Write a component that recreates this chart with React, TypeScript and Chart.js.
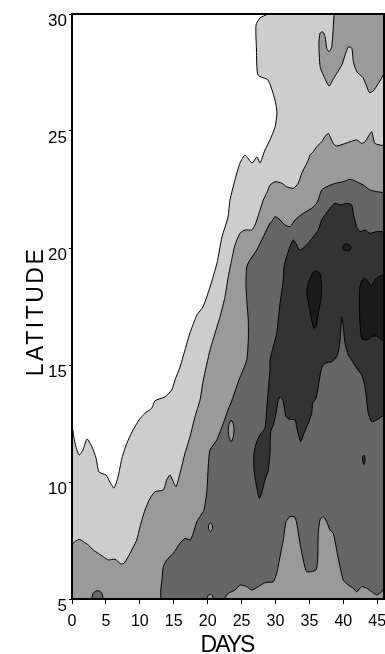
import React, { useEffect, useRef } from 'react';
import { Chart, registerables } from 'chart.js';

Chart.register(...registerables);

type Pt = [number, number]; // [day, latitude]

const dayTicks = [0, 5, 10, 15, 20, 25, 30, 35, 40, 45];
const latitudeTicks = [5, 10, 15, 20, 25, 30];
const dayMin = 0;
const dayMax = 46;
const latMin = 5;
const latMax = 30;

const levelColors = ['#cdcdcd', '#9a9a9a', '#666666', '#333333', '#1b1b1b'];

// Contour level 1 (outer band) – everything right of the white area
const level1: Pt[] = [
  [28.9, 30], [27.72, 29.83], [27.13, 29.53], [27.2, 28.46], [27.42, 27.39], [28.9, 27.18],
  [29.93, 26.32], [30.22, 25.77], [29.93, 25.17], [29.19, 24.62], [28.45, 24.19], [27.72, 23.63],
  [27.27, 23.89], [26.54, 23.63], [25.51, 23.97], [24.77, 23.63], [24.03, 22.91], [23.29, 22.05],
  [23.0, 21.32], [22.11, 20.47], [21.38, 19.36], [20.35, 18.33], [19.31, 17.48], [18.43, 17.14],
  [17.4, 16.37], [16.36, 15.34], [15.92, 14.91], [15.19, 14.36], [14.7, 13.93], [13.71, 13.64],
  [12.24, 13.47], [11.75, 13.15], [10.76, 12.94], [9.88, 12.65], [8.85, 12.14], [8.11, 11.67],
  [7.37, 11.03], [6.78, 10.21], [6.19, 9.74], [5.6, 10.0], [5.01, 10.3], [3.98, 10.43],
  [3.54, 11.03], [2.95, 11.5], [2.21, 11.84], [1.62, 11.37], [1.03, 11.15], [0.44, 11.67],
  [0, 12.35], [0, 5], [46, 5], [46, 30],
];

// Level 2 patch in the upper right corner
const level2Cap: Pt[] = [
  [38.64, 30], [38.3, 28.6], [37.9, 28.39], [37.57, 28.53], [37.3, 29.03], [36.98, 29.24],
  [36.58, 29.18], [36.4, 28.75], [36.58, 27.75], [37.06, 27.39], [37.9, 26.92], [38.45, 27.18],
  [39.04, 27.47], [39.78, 27.82], [40.27, 28.25], [40.75, 28.6], [41.25, 28.53], [41.49, 27.96],
  [41.99, 27.53], [42.88, 27.29], [43.36, 26.97], [43.85, 26.64], [44.44, 26.72], [45.18, 27.04],
  [46, 27.49], [46, 30],
];

// Level 2 main band
const level2: Pt[] = [
  [46, 24.37], [44.67, 24.47], [44.19, 24.97], [43.68, 24.76], [43.2, 24.54], [42.71, 24.47],
  [41.97, 24.62], [40.99, 24.54], [40.0, 24.44], [39.02, 24.36], [38.52, 24.47], [38.04, 24.76],
  [37.79, 24.9], [37.3, 24.76], [36.81, 24.54], [36.08, 24.33], [35.58, 24.12], [35.09, 23.97],
  [34.84, 23.76], [34.35, 23.47], [33.86, 23.19], [33.36, 22.77], [32.63, 22.55], [31.65, 22.62],
  [30.92, 22.77], [29.93, 22.83], [29.19, 22.69], [28.79, 22.4], [28.2, 22.05], [27.72, 21.62],
  [26.98, 20.98], [26.49, 20.77], [25.51, 20.77], [24.77, 20.63], [24.03, 20.13], [23.54, 19.49],
  [23.04, 18.77], [22.56, 17.92], [21.82, 17.06], [21.08, 16.35], [20.35, 15.64], [19.36, 14.36],
  [18.87, 13.5], [18.13, 12.79], [17.4, 11.94], [16.66, 11.23], [16.17, 10.65], [15.67, 10.09],
  [15.33, 9.8], [14.93, 10.01], [14.45, 10.3], [13.96, 10.09], [13.46, 9.66], [12.24, 9.59],
  [11.5, 9.3], [10.76, 8.8], [10.03, 8.09], [9.54, 7.52], [9.04, 7.23], [8.3, 6.81],
  [7.67, 6.53], [7.18, 6.5], [6.34, 6.7], [5.35, 6.67], [4.61, 6.81], [3.88, 6.95],
  [3.14, 7.09], [2.4, 7.31], [1.67, 7.45], [1.08, 7.55], [0.44, 7.45], [0, 7.31],
  [0, 5], [46, 5],
];

// Small level 3 bump on the lower edge
const level3Bump: Pt[] = [
  [2.9, 5], [3.1, 5.24], [3.54, 5.34], [4.05, 5.34], [4.42, 5.24], [4.61, 5],
];

// Level 3 main band
const level3: Pt[] = [
  [46, 22.36], [44.92, 22.41], [43.93, 22.48], [42.95, 22.69], [41.97, 22.83], [40.99, 22.94],
  [40.0, 22.83], [38.77, 22.76], [37.55, 22.62], [36.81, 22.48], [36.46, 22.19], [36.08, 21.91],
  [35.34, 21.7], [34.1, 21.48], [32.88, 21.2], [32.14, 20.91], [31.4, 20.98], [30.67, 21.2],
  [29.93, 21.34], [29.44, 21.12], [29.19, 21.06], [28.2, 20.48], [27.23, 19.91], [26.24, 19.49],
  [25.76, 19.2], [25.65, 18.5], [25.76, 17.78], [25.99, 16.92], [25.99, 16.07], [25.76, 15.21],
  [24.62, 14.36], [23.59, 13.5], [23.0, 13.08], [22.31, 12.51], [21.33, 11.79], [20.35, 11.37],
  [20.1, 10.73], [19.9, 9.66], [19.46, 8.8], [18.87, 8.52], [18.38, 8.29], [17.88, 7.81],
  [17.4, 7.52], [16.66, 7.59], [15.92, 7.38], [14.93, 6.95], [13.96, 6.67], [13.46, 6.38],
  [13.31, 5.95], [13.27, 5], [22.31, 5], [23.04, 5.24], [24.03, 5.38], [24.77, 5.6],
  [25.76, 5.53], [26.49, 5.38], [27.47, 5.53], [28.45, 5.7], [29.68, 5.74], [30.18, 6.1],
  [30.67, 6.81], [31.15, 7.52], [31.55, 8.3], [32.14, 8.52], [32.88, 8.49], [33.22, 8.09],
  [33.61, 7.38], [34.2, 6.53], [34.6, 6.17], [35.34, 6.17], [35.97, 6.24], [36.22, 6.67],
  [36.31, 7.81], [36.56, 8.38], [37.05, 8.52], [37.55, 8.3], [38.04, 7.95], [38.52, 7.81],
  [39.02, 7.09], [39.51, 6.38], [40.0, 5.81], [40.73, 5.6], [41.47, 5.46], [41.97, 5.31],
  [42.71, 5.53], [43.45, 5.46], [44.19, 5.31], [44.92, 5.17], [45.66, 5.31], [46, 5.46],
];

// Level 2 holes inside level 3
const level2HoleA: Pt[] = [
  [23.47, 12.65], [23.81, 12.48], [23.88, 12.18], [23.74, 11.88], [23.47, 11.72],
  [23.15, 11.92], [23.04, 12.22], [23.15, 12.48], [23.47, 12.65],
];
const level2HoleB: Pt[] = [
  [20.42, 8.26], [20.68, 8.16], [20.71, 7.99], [20.42, 7.88], [20.15, 7.99], [20.13, 8.16], [20.42, 8.26],
];
const level2HoleC: Pt[] = [
  [19.9, 5], [20.05, 5.15], [20.39, 5.21], [20.71, 5.15], [20.83, 5],
];

// Level 4 core
const level4: Pt[] = [
  [46, 20.7], [44.92, 20.7], [43.93, 20.63], [43.2, 20.77], [42.46, 20.7], [41.97, 20.91],
  [41.47, 21.48], [41.24, 21.84], [40.5, 21.91], [39.51, 21.84], [38.77, 21.91], [38.04, 21.7],
  [37.3, 21.41], [36.81, 21.2], [36.31, 20.77], [35.58, 20.48], [34.6, 20.13], [33.61, 19.91],
  [33.13, 20.13], [32.63, 20.34], [32.14, 20.06], [31.65, 19.63], [31.26, 19.2], [31.15, 18.63],
  [30.67, 17.64], [30.18, 16.35], [29.68, 15.78], [29.19, 15.21], [29.19, 14.79], [28.94, 13.93],
  [28.7, 13.08], [28.45, 12.3], [27.72, 12.01], [27.23, 11.72], [26.83, 11.23], [26.83, 10.51],
  [27.13, 9.94], [27.61, 9.3], [27.97, 9.52], [28.45, 10.09], [28.94, 10.51], [29.19, 11.23],
  [29.29, 12.15], [29.68, 12.44], [30.08, 12.94], [30.42, 13.5], [30.77, 13.65], [31.15, 13.43],
  [31.55, 12.79], [32.14, 12.68], [32.88, 12.65], [33.22, 12.22], [33.72, 11.72], [34.2, 12.08],
  [34.84, 12.51], [35.34, 12.94], [35.49, 13.36], [35.97, 13.58], [36.31, 14.07], [36.46, 14.36],
  [36.81, 14.86], [37.3, 15.07], [38.29, 15.14], [39.02, 15.35], [39.41, 15.78], [39.66, 16.64],
  [39.76, 17.06], [40.0, 16.64], [40.25, 15.93], [40.73, 15.43], [41.24, 15.21], [41.97, 14.86],
  [42.71, 14.57], [42.95, 14.36], [43.2, 14.07], [43.45, 13.5], [43.68, 12.94], [44.19, 12.58],
  [44.92, 12.65], [46, 12.86],
];

// Isolated level 4 spot
const level4Spot: Pt[] = [
  [43.02, 11.15], [43.2, 11.03], [43.17, 10.85], [43.02, 10.75], [42.86, 10.9], [42.87, 11.09], [43.02, 11.15],
];

// Level 5 maxima
const level5West: Pt[] = [
  [36.08, 19.03], [36.56, 18.92], [36.81, 18.35], [36.67, 17.78], [36.31, 17.21], [35.97, 16.64],
  [35.68, 16.57], [35.34, 16.92], [34.99, 17.49], [34.6, 18.06], [34.84, 18.49], [35.34, 18.85],
  [35.68, 18.99], [36.08, 19.03],
];
const level5East: Pt[] = [
  [46, 18.85], [45.41, 18.8], [44.67, 18.63], [44.04, 18.35], [43.54, 18.63], [42.95, 18.7],
  [42.46, 18.35], [42.36, 17.64], [42.46, 16.78], [42.71, 16.14], [43.45, 16.07], [44.19, 16.21],
  [44.92, 16.24], [45.66, 16.07], [46, 16.03],
];
const level5Spot: Pt[] = [
  [39.89, 20.03], [40.1, 20.15], [40.69, 20.17], [41.13, 20.06], [40.99, 19.91], [40.4, 19.88],
  [39.95, 19.94], [39.89, 20.03],
];

// Painted in this order: later shapes sit on top
const shapes: { edge: Pt[]; level: number }[] = [
  { edge: level1, level: 0 },
  { edge: level2Cap, level: 1 },
  { edge: level2, level: 1 },
  { edge: level3Bump, level: 2 },
  { edge: level3, level: 2 },
  { edge: level2HoleA, level: 1 },
  { edge: level2HoleB, level: 1 },
  { edge: level2HoleC, level: 1 },
  { edge: level4, level: 3 },
  { edge: level4Spot, level: 3 },
  { edge: level5West, level: 4 },
  { edge: level5East, level: 4 },
  { edge: level5Spot, level: 4 },
];

const FONT = '"Liberation Sans", Arial, Helvetica, sans-serif';
const WIDTH = 385;
const HEIGHT = 654;

const framePlugin = {
  id: 'plotFrame',
  afterDatasetsDraw(chart: any) {
    const { ctx, chartArea: a } = chart;
    ctx.save();
    ctx.strokeStyle = '#000';
    ctx.lineWidth = 2;
    ctx.strokeRect(a.left, a.top, a.right - a.left, a.bottom - a.top);
    ctx.restore();
  },
};

const axisTitlePlugin = {
  id: 'axisTitles',
  afterDraw(chart: any) {
    const { ctx, chartArea: a, height } = chart;
    ctx.save();
    ctx.fillStyle = '#000';
    ctx.font = `23px ${FONT}`;
    ctx.textAlign = 'center';
    ctx.textBaseline = 'alphabetic';
    (ctx as any).letterSpacing = '-2px';
    ctx.fillText('DAYS', (a.left + a.right) / 2 - 1, height - 2);
    (ctx as any).letterSpacing = '2.5px';
    ctx.translate(a.left - 29, (a.top + a.bottom) / 2 + 5);
    ctx.rotate(-Math.PI / 2);
    ctx.fillText('LATITUDE', 0, 0);
    ctx.restore();
  },
};

// keep the plot box fixed: no extra room reserved for overhanging tick labels
const noScalePadding = (s: any) => {
  s.paddingLeft = 0;
  s.paddingRight = 0;
  s.paddingTop = 0;
  s.paddingBottom = 0;
};

export default function App() {
  const canvasRef = useRef<HTMLCanvasElement | null>(null);

  useEffect(() => {
    const canvas = canvasRef.current;
    if (!canvas) return;
    const datasets = shapes.map((s, i) => ({
      label: `level ${s.level + 1}`,
      data: s.edge.map(([x, y]) => ({ x, y })),
      backgroundColor: levelColors[s.level],
      borderColor: '#000',
      borderWidth: 1,
      fill: 'shape' as const,
      pointRadius: 0,
      pointHoverRadius: 0,
      tension: 0.2,
      order: shapes.length - i,
    }));

    const chart = new Chart(canvas, {
      type: 'line',
      data: { datasets },
      options: {
        animation: false,
        responsive: false,
        devicePixelRatio: 1,
        events: [],
        layout: { autoPadding: false, padding: { top: 14, right: 1, left: 0, bottom: 0 } },
        plugins: {
          legend: { display: false },
          tooltip: { enabled: false },
          title: { display: false },
        },
        scales: {
          x: {
            type: 'linear',
            min: dayMin,
            max: dayMax,
            afterBuildTicks: (s: any) => {
              s.ticks = dayTicks.map((value) => ({ value }));
            },
            afterFit: (s: any) => {
              s.height = 55;
              noScalePadding(s);
            },
            grid: { drawOnChartArea: false, drawTicks: true, tickLength: 5, color: '#000', lineWidth: 1 },
            border: { display: false },
            ticks: {
              color: '#000',
              font: { family: FONT, size: 16 },
              padding: 8,
              maxRotation: 0,
              autoSkip: false,
            },
          },
          y: {
            type: 'linear',
            min: latMin,
            max: latMax,
            afterBuildTicks: (s: any) => {
              s.ticks = latitudeTicks.map((value) => ({ value }));
            },
            afterFit: (s: any) => {
              s.width = 72;
              noScalePadding(s);
            },
            grid: { drawOnChartArea: false, drawTicks: true, tickLength: 3, color: '#000', lineWidth: 1 },
            border: { display: false },
            ticks: {
              color: '#000',
              font: { family: FONT, size: 17 },
              padding: 2,
              labelOffset: 7,
              autoSkip: false,
            },
          },
        },
      },
      plugins: [framePlugin, axisTitlePlugin],
    } as any);

    return () => chart.destroy();
  }, []);

  return (
    <div style={{ position: 'fixed', left: 0, top: 0, width: WIDTH, height: HEIGHT, background: '#fff' }}>
      <canvas ref={canvasRef} width={WIDTH} height={HEIGHT} style={{ display: 'block', width: WIDTH, height: HEIGHT }} />
    </div>
  );
}
